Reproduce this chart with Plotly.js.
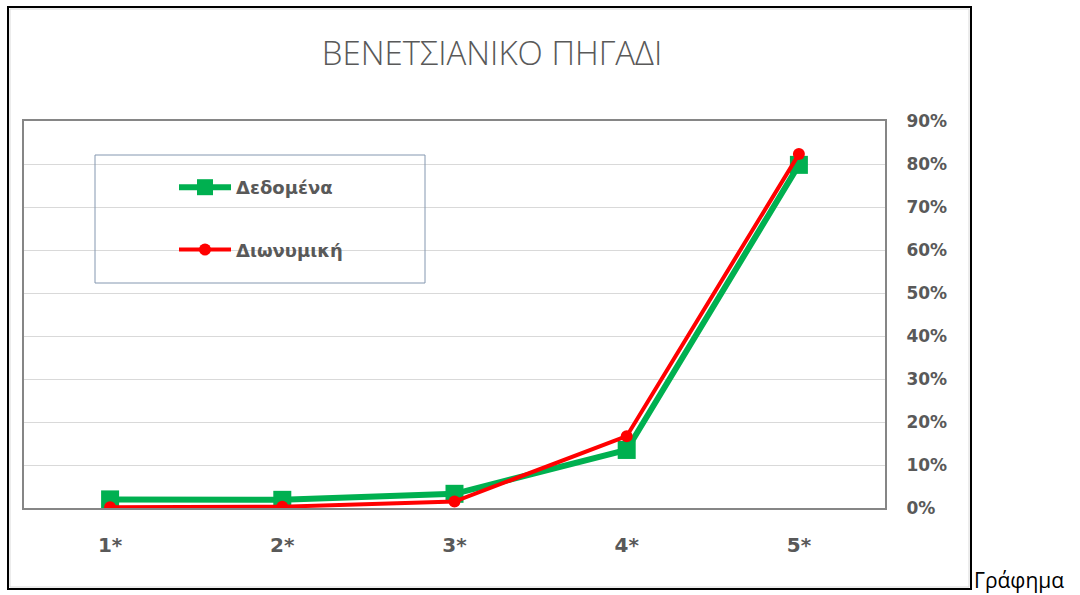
<!DOCTYPE html>
<html><head><meta charset="utf-8">
<script src="https://cdn.plot.ly/plotly-3.0.1.min.js"></script>
<style>html,body{margin:0;padding:0;background:#fff;}#chart{width:1080px;height:595px;}</style>
</head><body><div id="chart"></div>
<script>
const categories = ["1*", "2*", "3*", "4*", "5*"];
const dataValues = [0.020, 0.019, 0.033, 0.135, 0.798];
const binomialValues = [0.002, 0.003, 0.015, 0.167, 0.823];
const seriesNames = ["Δεδομένα", "Διωνυμική"];
const chartTitle = "ΒΕΝΕΤΣΙΑΝΙΚΟ ΠΗΓΑΔΙ";
const captionText = "Γράφημα";

const L = 24, R = 885, T = 121, B = 508, W = 1080, H = 595;
const px = v => (v - L) / (R - L);
const py = v => (B - v) / (B - T);

const traces = [
  {x: categories, y: dataValues, name: seriesNames[0], type: 'scatter', mode: 'lines+markers',
   legendgroup: 'a', line: {color: '#00B050', width: 6},
   marker: {symbol: 'square', size: 18, color: '#00B050'}},
  {x: categories, y: binomialValues, name: seriesNames[1], type: 'scatter', mode: 'lines+markers',
   legendgroup: 'b', line: {color: '#FF0000', width: 4},
   marker: {symbol: 'circle', size: 12, color: '#FF0000'}}
];

const layout = {
  width: W, height: H,
  margin: {l: L, r: W - R, t: T, b: H - B, pad: 0},
  paper_bgcolor: '#ffffff', plot_bgcolor: '#ffffff',
  title: {text: chartTitle, x: 492 / W, xanchor: 'center', xref: 'container',
          y: 1 - 53 / H, yanchor: 'middle', yref: 'container',
          font: {family: 'Open Sans', size: 33, color: '#595959', weight: 300}},
  showlegend: true,
  legend: {x: px(174), xanchor: 'left', y: py(169), yanchor: 'top',
           bgcolor: 'rgba(0,0,0,0)', borderwidth: 0, tracegroupgap: 36, itemwidth: 52,
           font: {family: 'DejaVu Sans', size: 18, color: '#595959', weight: 'bold'}},
  xaxis: {type: 'category', range: [-0.5, 4.5], showgrid: false, zeroline: false,
          showline: true, mirror: true, linecolor: '#868686', linewidth: 2,
          ticks: '', ticklabelstandoff: 18,
          tickfont: {family: 'DejaVu Sans', size: 20, color: '#595959', weight: 'bold'}},
  yaxis: {side: 'right', range: [0, 0.9], dtick: 0.1, tickformat: '.0%',
          showgrid: true, gridcolor: '#d9d9d9', gridwidth: 1, zeroline: false,
          showline: true, mirror: true, linecolor: '#868686', linewidth: 2,
          ticks: '', ticklabelstandoff: 16,
          tickfont: {family: 'DejaVu Sans', size: 17, color: '#595959', weight: 'bold'}},
  shapes: [
    {type: 'rect', xref: 'paper', yref: 'paper', x0: px(8), x1: px(971), y0: py(589), y1: py(7),
     line: {color: '#000000', width: 2}, layer: 'below'},
    {type: 'rect', xref: 'paper', yref: 'paper', x0: px(10), x1: px(969), y0: py(587), y1: py(9),
     line: {color: '#d9d9d9', width: 1}, layer: 'below'},
    {type: 'rect', xref: 'paper', yref: 'paper', x0: px(95), x1: px(425), y0: py(283), y1: py(155),
     line: {color: '#8497B0', width: 1}, layer: 'above'}
  ],
  annotations: [
    {text: captionText, xref: 'paper', yref: 'paper', x: px(972), y: py(580), xanchor: 'left', yanchor: 'middle',
     showarrow: false, font: {family: 'Open Sans', size: 21, color: '#000000'}}
  ]
};

Plotly.newPlot('chart', traces, layout, {displayModeBar: false, staticPlot: true});
</script></body></html>
